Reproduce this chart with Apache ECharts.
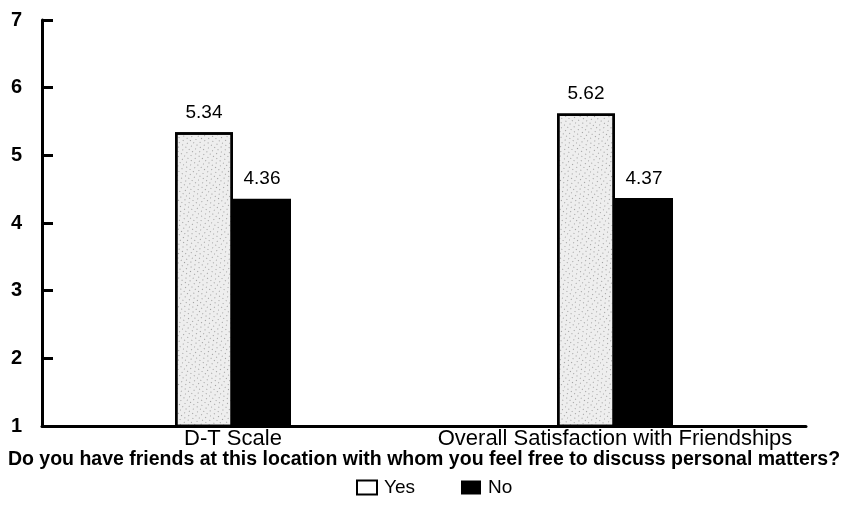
<!DOCTYPE html>
<html>
<head>
<meta charset="utf-8">
<script src="https://cdn.jsdelivr.net/npm/echarts@6/dist/echarts.min.js"></script>
<style>
  html, body { margin: 0; padding: 0; background: #fff; }
  #chart { width: 849px; height: 516px; }
</style>
</head>
<body>
<div id="chart"></div>
<script>
// data
const categories = ['D-T Scale', 'Overall Satisfaction with Friendships']
const yesValues = [5.34, 5.62]
const noValues = [4.36, 4.37]
const xTitle = 'Do you have friends at this location with whom you feel free to discuss personal matters?'

const font = '"Liberation Sans", Arial, sans-serif'

const chart = echarts.init(document.getElementById('chart'))

const labelStyle = {
  show: true,
  position: 'top',
  distance: 10,
  color: '#000',
  fontSize: 19,
  fontFamily: font,
  formatter: p => p.value.toFixed(2)
}

chart.setOption({
  backgroundColor: '#fff',
  animation: false,
  grid: { left: 42, right: 43, top: 20, bottom: 90 },
  legend: {
    top: 473,
    left: 351,
    icon: 'rect',
    itemWidth: 20,
    itemHeight: 14,
    itemGap: 46,
    textStyle: { color: '#000', fontSize: 19, fontFamily: font, padding: [0, 0, 0, 2] },
    data: [
      { name: 'Yes', itemStyle: { color: '#fff', borderColor: '#000', borderWidth: 2, decal: 'none' } },
      { name: 'No' }
    ]
  },
  xAxis: {
    type: 'category',
    data: categories,
    name: xTitle,
    nameLocation: 'middle',
    nameGap: 24,
    nameMoveOverlap: false,
    nameTextStyle: { color: '#000', fontSize: 19.5, fontWeight: 'bold', fontFamily: font },
    axisLine: { lineStyle: { color: '#000', width: 3 } },
    axisTick: { show: false },
    axisLabel: { interval: 0, color: '#000', fontSize: 22, fontFamily: font, margin: 2 }
  },
  yAxis: {
    type: 'value',
    min: 1,
    max: 7,
    interval: 1,
    splitLine: { show: false },
    axisLine: { show: true, lineStyle: { color: '#000', width: 3 } },
    axisTick: { show: true, inside: true, length: 11, lineStyle: { color: '#000', width: 3 } },
    axisLabel: { color: '#000', fontSize: 20, fontWeight: 'bold', fontFamily: font, margin: 20 }
  },
  series: [
    {
      name: 'Yes',
      type: 'bar',
      data: yesValues,
      barWidth: 58,
      barGap: '0%',
      itemStyle: {
        color: '#eeeeee',
        borderColor: '#000',
        borderWidth: 2.5,
        decal: {
          symbol: 'rect',
          symbolSize: 1,
          color: 'rgba(60,60,60,0.45)',
          dashArrayX: [[1, 4], [1, 3]],
          dashArrayY: [1, 3],
          rotation: 0.6
        }
      },
      label: labelStyle
    },
    {
      name: 'No',
      type: 'bar',
      data: noValues,
      barWidth: 58,
      itemStyle: { color: '#000' },
      label: labelStyle
    }
  ]
})
</script>
</body>
</html>
